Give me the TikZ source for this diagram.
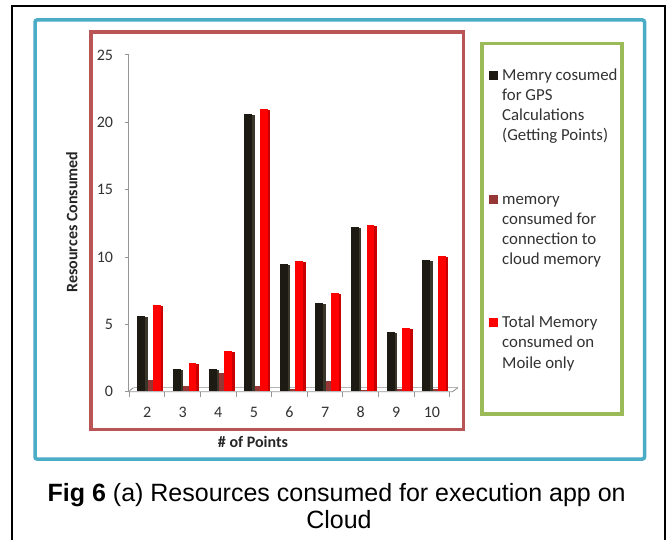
\documentclass[tikz,border=0pt]{standalone}
\usepackage{fontspec}
\setmainfont{Carlito}
\newfontfamily\capfont{Liberation Sans}
\definecolor{tealb}{RGB}{75,172,198}
\definecolor{redb}{RGB}{185,85,85}
\definecolor{greenb}{RGB}{155,187,89}
\definecolor{barblk}{RGB}{28,26,18}
\definecolor{barblkside}{RGB}{58,55,42}
\definecolor{barbrn}{RGB}{150,55,53}
\definecolor{barred}{RGB}{255,0,0}
\definecolor{barredside}{RGB}{200,0,0}
\definecolor{axisg}{RGB}{150,150,150}
\definecolor{lbl}{RGB}{50,50,50}
\begin{document}
\begin{tikzpicture}[x=1pt,y=-1pt,
  ticklab/.style={inner sep=0pt, font=\fontsize{16}{18}\selectfont, text=lbl},
  legtext/.style={inner sep=0pt, anchor=base west, font=\fontsize{16.8}{20}\selectfont, text=lbl},
  axtitle/.style={inner sep=0pt, font=\bfseries\fontsize{16}{18}\selectfont, text=black!85},
  captext/.style={inner sep=0pt, anchor=base, font=\capfont\fontsize{25}{26}\selectfont},
  axisline/.style={axisg, line width=0.9pt}
]
\useasboundingbox (0,0) rectangle (670,540);
\fill[white] (0,0) rectangle (670,540);
\begin{scope}
  \clip (0,0) rectangle (670,540);
  \draw[line width=1.8pt] (11.7,5.7) rectangle (664.8,560);
\end{scope}
% frames
\draw[tealb, line width=3.5pt, rounded corners=2pt] (35,20) rectangle (644.5,459);
\draw[redb, line width=3.2pt] (91,32) rectangle (463.5,429.5);
\draw[greenb, line width=3.2pt] (482,43.5) rectangle (622,414);

% floor
\draw[axisg!70, line width=0.7pt] (133.5,387.6) -- (458,387.6);
\draw[axisline] (128.5,391.7) -- (452.5,391.7) -- (458,387.6);
\draw[axisline] (128.5,391.7) -- (133.5,387.6);
% y axis
\draw[axisline] (128.5,55) -- (128.5,391.7);
\foreach \v in {0,5,10,15,20,25}{
  \draw[axisline] (124.5,{391.7-13.47*\v}) -- (128.5,{391.7-13.47*\v});
  \node[ticklab, anchor=east] (yt\v) at (113.3,{391.7-13.47*\v}) {\v};
}
% x ticks and labels
\foreach \k in {0,...,9}{
  \draw[axisline] ({129.3+35.6*\k},391.7) -- ({129.3+35.6*\k},396.5);
}
\foreach \k/\c in {0/2,1/3,2/4,3/5,4/6,5/7,6/8,7/9,8/10}{
  \node[ticklab, anchor=base] (xc\c) at ({129.3+35.6*\k+17.8},417.5) {\c};
}
% bars
\foreach \k/\b/\m/\r in {0/5.6/0.9/6.4, 1/1.7/0.4/2.1, 2/1.7/1.4/3.0, 3/20.6/0.4/21.0, 4/9.5/0.2/9.7, 5/6.6/0.8/7.3, 6/12.2/0.1/12.35, 7/4.4/0.2/4.7, 8/9.8/0.2/10.1}{
  \pgfmathsetmacro\s{129.3+35.6*\k}
  \fill[barbrn] (\s+16,390.5) rectangle (\s+24.5,{391.7-13.47*\m});
  \fill[barblk] (\s+8,390.5) rectangle (\s+16,{391.7-13.47*\b});
  \fill[barblkside] (\s+16,390.5) rectangle (\s+18.5,{391.7-13.47*\b+1});
  \fill[barred] (\s+23.7,390.5) rectangle (\s+31.5,{391.7-13.47*\r});
  \fill[barredside] (\s+31.5,390.5) rectangle (\s+34,{391.7-13.47*\r+1});
}
% axis titles
\node[axtitle, rotate=90] (ytitle) at (71.7,222) {Resources Consumed};
\node[axtitle, anchor=base] (xtitle) at (253,447) {\# of Points};

% legend
\fill[barblk] (488.5,71.5) rectangle (497.5,80.5);
\node[legtext] (l1a) at (502,81) {Memry cosumed};
\node[legtext] (l1b) at (502,101) {for GPS};
\node[legtext] (l1c) at (502,121) {Calculations};
\node[legtext] (l1d) at (502,141) {(Getting Points)};
\fill[barbrn] (488.5,195) rectangle (497.5,204);
\node[legtext] (l2a) at (502,204.5) {memory};
\node[legtext] (l2b) at (502,224.5) {consumed for};
\node[legtext] (l2c) at (502,244.5) {connection to};
\node[legtext] (l2d) at (502,264.5) {cloud memory};
\fill[barred] (488.5,318.5) rectangle (497.5,327.5);
\node[legtext] (l3a) at (502,328) {Total Memory};
\node[legtext] (l3b) at (502,348) {consumed on};
\node[legtext] (l3c) at (502,368) {Moile only};

% caption
\node[captext] (cap1) at (336.7,501.7) {\textbf{Fig 6} (a) Resources consumed for execution app on};
\node[captext] (cap2) at (339,528) {Cloud};
\end{tikzpicture}
\end{document}
